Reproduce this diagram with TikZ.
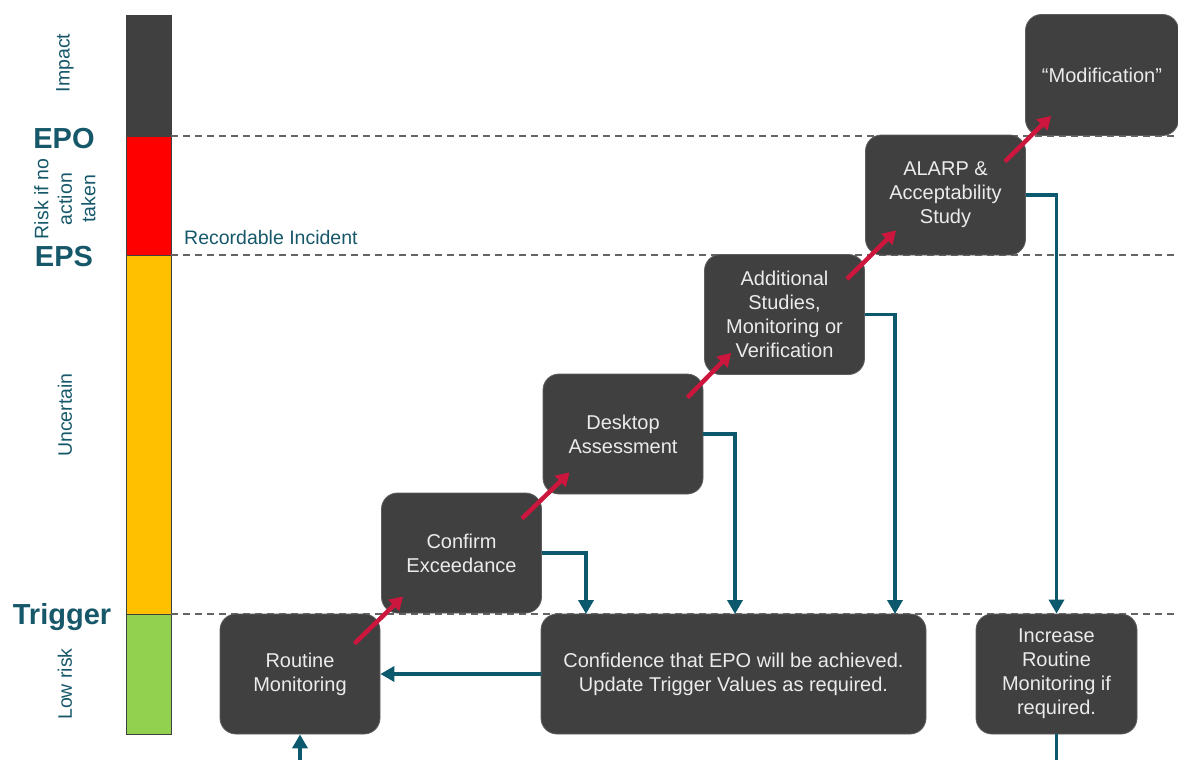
\documentclass[tikz,border=0pt]{standalone}
\usepackage{fontspec}
\setmainfont{Liberation Sans}
\usetikzlibrary{arrows.meta,calc}
\definecolor{boxgray}{RGB}{64,64,64}
\definecolor{tealc}{RGB}{12,88,108}
\definecolor{labteal}{RGB}{22,88,106}
\definecolor{redarr}{RGB}{204,22,62}
\definecolor{barred}{RGB}{255,0,0}
\definecolor{baryellow}{RGB}{255,192,0}
\definecolor{bargreen}{RGB}{146,208,80}
\definecolor{dashgray}{RGB}{100,100,100}
\begin{document}
\begin{tikzpicture}[x=1pt,y=-1pt,
  stepbox/.style={rounded corners=16pt, fill=boxgray, draw=boxgray!85!white, line width=0.8pt,
    text=white!92!black, align=center, inner sep=0pt, minimum width=160pt, minimum height=120pt,
    font=\fontsize{20}{24}\selectfont},
  redarrow/.style={draw=redarr, line width=4.5pt, -{Triangle[length=13pt,width=15pt]}},
  tealarrow/.style={draw=tealc, line width=3.8pt, -{Triangle[length=14pt,width=15pt]}},
  tealline/.style={draw=tealc, line width=3.8pt},
  levelline/.style={draw=dashgray, line width=1.4pt, dash pattern=on 7pt off 5pt},
  bigl/.style={text=labteal, font=\bfseries\fontsize{29}{32}\selectfont, anchor=base},
  vlab/.style={text=labteal, font=\fontsize{19.5}{23.5}\selectfont, rotate=90, align=center},
  barseg/.style={draw=boxgray, line width=0.8pt}
]
\clip (0,0) rectangle (1178,760);

% risk bar
\path[barseg, fill=boxgray] (126,15) rectangle (171,136);
\path[barseg, fill=barred] (126,136) rectangle (171,255);
\path[barseg, fill=baryellow] (126,255) rectangle (171,614);
\path[barseg, fill=bargreen] (126,614) rectangle (171,734);

% level lines
\draw[levelline] (171,136) -- (1178,136);
\draw[levelline] (171,255) -- (1178,255);
\draw[levelline] (171,614) -- (1178,614);

% left labels
\node[bigl] (epo) at (64,148) {EPO};
\node[bigl] (eps) at (64,266) {EPS};
\node[bigl] (trig) at (62,624) {Trigger};
\node[vlab] (impact) at (65,63) {Impact};
\node[vlab] (risk) at (65,199) {Risk if no\\action\\taken};
\node[vlab] (unc) at (65,415) {Uncertain};
\node[vlab] (low) at (65,684) {Low risk};
\node[text=labteal, font=\fontsize{19.5}{23}\selectfont, anchor=base west, inner sep=0pt] (rec) at (184,244) {Recordable Incident};

% boxes
\node[stepbox] (routine) at (300,674) {Routine\\Monitoring};
\node[stepbox] (conf) at (461.5,553) {Confirm\\Exceedance};
\node[stepbox] (desk) at (623,434) {Desktop\\Assessment};
\node[stepbox] (addl) at (784.5,314.5) {Additional\\Studies,\\Monitoring or\\Verification};
\node[stepbox] (alarp) at (945.5,195) {ALARP \&\\Acceptability\\Study};
\node[stepbox, minimum width=153pt, minimum height=121pt] (mod) at (1102,75) {“Modification”};
\node[stepbox, minimum width=385pt] (confid) at (733.5,674) {Confidence that EPO will be achieved.\\Update Trigger Values as required.};
\node[stepbox, minimum width=161pt] (inc) at (1056.5,674) {Increase\\Routine\\Monitoring if\\required.};

% red escalation arrows
\draw[redarrow] ($(routine.north east)+(-26,30)$) -- ($(conf.south west)+(22,-17)$);
\draw[redarrow] ($(conf.north east)+(-20,26)$) -- ($(desk.south west)+(27,-22)$);
\draw[redarrow] ($(desk.north east)+(-16,24)$) -- ($(addl.south west)+(27,-22)$);
\draw[redarrow] ($(addl.north east)+(-18,25)$) -- ($(alarp.south west)+(31,-25)$);
\draw[redarrow] ($(alarp.north east)+(-21,27)$) -- ($(mod.south west)+(26,-20)$);

% teal return connectors
\coordinate (t1) at (586,614);
\coordinate (t2) at (735,614);
\coordinate (t3) at (895,614);
\coordinate (rb) at (300,762);
\coordinate (ib) at (1056.5,762);
\draw[tealarrow] (conf.east) -| (t1);
\draw[tealarrow] (desk.east) -| (t2);
\draw[tealarrow] (addl.east) -| (t3);
\draw[tealarrow] (alarp.east) -| (inc.north);
\draw[tealarrow] (confid.west) -- (routine.east);
\draw[tealarrow] (rb) -- (routine.south);
\draw[tealline] (inc.south) -- (ib);
\end{tikzpicture}
\end{document}
